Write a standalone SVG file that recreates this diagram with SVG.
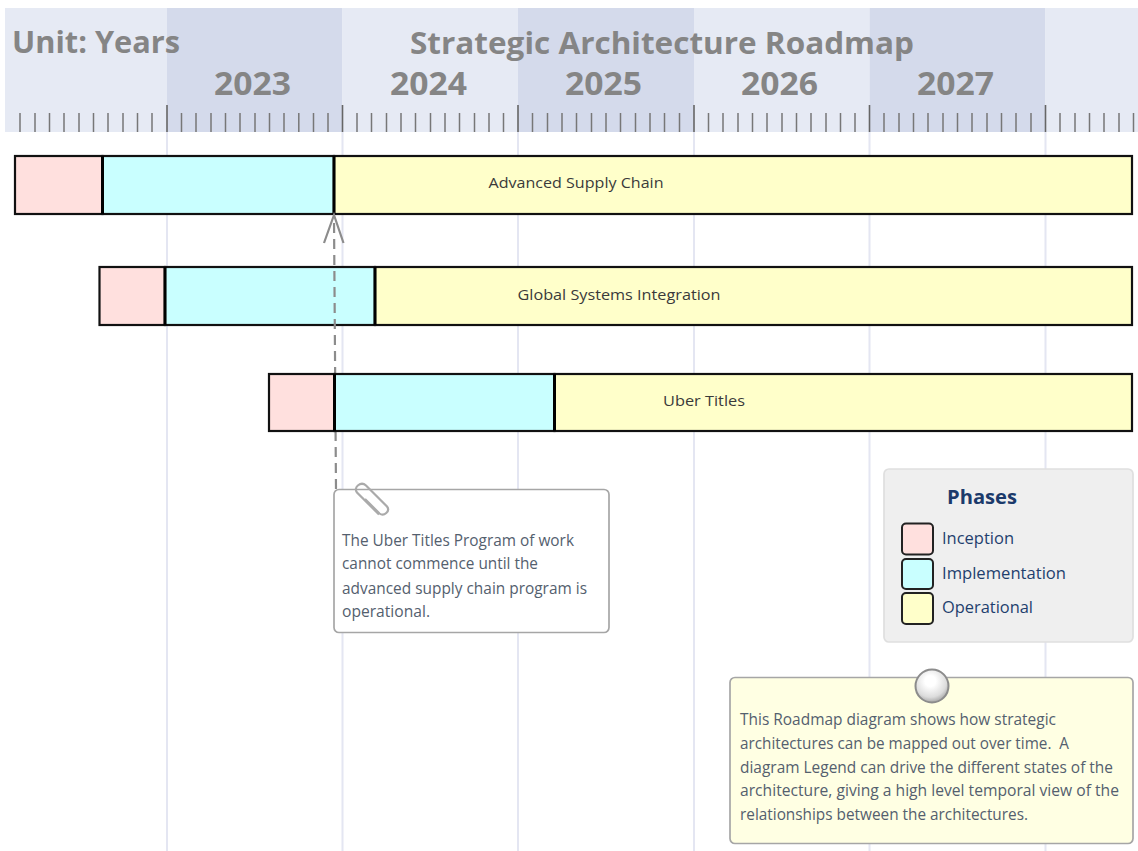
<svg xmlns="http://www.w3.org/2000/svg" width="1138" height="851" viewBox="0 0 1138 851">
<defs>
<radialGradient id="ball" cx="0.45" cy="0.35" r="0.65"><stop offset="0.25" stop-color="#ffffff"/><stop offset="0.75" stop-color="#dcdcdc"/><stop offset="1" stop-color="#a8a8a8"/></radialGradient>
</defs>
<style>
text{font-family:"Open Sans","Noto Sans","Liberation Sans",sans-serif}
.h{font-weight:700;fill:#858585}
.title{font-size:31px}
.year{font-size:32px}
.lab{font-size:15px;fill:#3a3a3a}
.note{font-size:15.5px;fill:#54606e}
.band0{fill:#e6eaf4}.band1{fill:#d4daeb}
.grid{stroke:#e4e6f2;stroke-width:2}
.minor{stroke:#777;stroke-width:1.5}
.major{stroke:#666;stroke-width:1.6}
.seg{stroke:#111;stroke-width:2.200}
.div{stroke:#000;stroke-width:3;fill:none}
.inc{fill:#ffe0de}.imp{fill:#c9ffff}.op{fill:#ffffca}
.leg{font-size:16px;fill:#1f3f6e}
.dash{fill:none;stroke:#8c8c8c;stroke-width:2.200}
</style>
<g id="grid">
<path class="grid" d="M167 132V851M342.500 132V851M518 132V851M694 132V851M869.500 132V851M1045.500 132V851"/>
</g>
<g id="timeline">
<rect class="band0" x="5" y="8" width="162" height="124"/>
<rect class="band1" x="167" y="8" width="175.500" height="124"/>
<rect class="band0" x="342.500" y="8" width="175.500" height="124"/>
<rect class="band1" x="518" y="8" width="176" height="124"/>
<rect class="band0" x="694" y="8" width="175.500" height="124"/>
<rect class="band1" x="869.500" y="8" width="176" height="124"/>
<rect class="band0" x="1045.500" y="8" width="92.500" height="124"/>
<path class="minor" d="M20 113V132M35 113V132M49.500 113V132M64 113V132M79 113V132M93.500 113V132M108 113V132M123 113V132M137.500 113V132M152 113V132M181.500 113V132M196 113V132M211 113V132M225.500 113V132M240 113V132M255 113V132M269.500 113V132M284 113V132M298.800 113V132M313.500 113V132M328 113V132M357 113V132M371.500 113V132M386.500 113V132M401 113V132M415.500 113V132M430.500 113V132M445 113V132M459.500 113V132M474.500 113V132M489 113V132M503.500 113V132M532.500 113V132M547.500 113V132M562 113V132M576.500 113V132M591.500 113V132M606 113V132M620.500 113V132M635.500 113V132M650 113V132M664.500 113V132M679.500 113V132M708.500 113V132M723 113V132M738 113V132M752.500 113V132M767 113V132M782 113V132M796.500 113V132M811 113V132M826 113V132M840.500 113V132M855 113V132M884 113V132M899 113V132M913.500 113V132M928 113V132M943 113V132M957.500 113V132M972 113V132M987 113V132M1001.500 113V132M1016 113V132M1031 113V132M1060 113V132M1075 113V132M1089.500 113V132M1104 113V132M1119 113V132M1133.500 113V132"/>
<path class="major" d="M167 105V132M342.500 105V132M518 105V132M694 105V132M869.500 105V132M1045.500 105V132"/>
<text class="h title" x="12" y="53" textLength="168" lengthAdjust="spacingAndGlyphs">Unit: Years</text>
<text class="h title" x="410" y="54" textLength="504" lengthAdjust="spacingAndGlyphs">Strategic Architecture Roadmap</text>
<text class="h year" x="214" y="95" textLength="77" lengthAdjust="spacingAndGlyphs">2023</text>
<text class="h year" x="390" y="95" textLength="77" lengthAdjust="spacingAndGlyphs">2024</text>
<text class="h year" x="565" y="95" textLength="77" lengthAdjust="spacingAndGlyphs">2025</text>
<text class="h year" x="741" y="95" textLength="77" lengthAdjust="spacingAndGlyphs">2026</text>
<text class="h year" x="917" y="95" textLength="77" lengthAdjust="spacingAndGlyphs">2027</text>
</g>
<g id="advanced-supply-chain">
<rect class="seg inc" x="15" y="156" width="87.500" height="58"/>
<rect class="seg imp" x="102.500" y="156" width="231.500" height="58"/>
<rect class="seg op" x="334" y="156" width="798" height="58"/>
<path class="div" d="M102.500 156V214M334 156V214"/>
<text class="lab" x="488.500" y="188" textLength="175" lengthAdjust="spacingAndGlyphs">Advanced Supply Chain</text>
</g>
<g id="global-systems-integration">
<rect class="seg inc" x="99.500" y="267" width="65.500" height="58"/>
<rect class="seg imp" x="165" y="267" width="210" height="58"/>
<rect class="seg op" x="375" y="267" width="757" height="58"/>
<path class="div" d="M165 267V325M375 267V325"/>
<text class="lab" x="517.500" y="300" textLength="203" lengthAdjust="spacingAndGlyphs">Global Systems Integration</text>
</g>
<g id="connectors">
<path class="dash" d="M336 489L334 218" stroke-dasharray="10 6"/>
<path class="dash" d="M324 243L334 215L343.500 243"/>
</g>
<g id="uber-titles">
<rect class="seg inc" x="269" y="374" width="65.500" height="57"/>
<rect class="seg imp" x="334.500" y="374" width="220" height="57"/>
<rect class="seg op" x="554.500" y="374" width="577.500" height="57"/>
<path class="div" d="M334.500 374V431M554.500 374V431"/>
<text class="lab" x="663" y="406" textLength="82" lengthAdjust="spacingAndGlyphs">Uber Titles</text>
</g>
<g id="note-uber">
<rect x="334" y="489.500" width="275" height="143" rx="5" fill="#fff" stroke="#a6a6a6" stroke-width="1.700"/>
<path d="M379 514.500L357 492.500C353 487 361 481 366 485.500L387 506.500C390.500 511 384 517 379.500 513.500L365 499" fill="none" stroke="#aaa" stroke-width="2.200"/>
<text class="note" x="342" y="546" textLength="232" lengthAdjust="spacingAndGlyphs">The Uber Titles Program of work</text>
<text class="note" x="342" y="569" textLength="196" lengthAdjust="spacingAndGlyphs">cannot commence until the</text>
<text class="note" x="342" y="594" textLength="245" lengthAdjust="spacingAndGlyphs">advanced supply chain program is</text>
<text class="note" x="342" y="617" textLength="88" lengthAdjust="spacingAndGlyphs">operational.</text>
</g>
<g id="legend">
<rect x="884" y="469" width="249" height="173" rx="5" fill="#efefef" stroke="#dfdfdf" stroke-width="1.700"/>
<text x="947" y="504" font-size="20" font-weight="700" fill="#1b3a6b" textLength="70" lengthAdjust="spacingAndGlyphs">Phases</text>
<rect class="inc" x="902" y="523.500" width="31" height="31" rx="4" stroke="#222" stroke-width="2"/>
<rect class="imp" x="902" y="559" width="31" height="30" rx="4" stroke="#222" stroke-width="2"/>
<rect class="op" x="902" y="593" width="31" height="31" rx="4" stroke="#222" stroke-width="2"/>
<text class="leg" x="942" y="544" textLength="72" lengthAdjust="spacingAndGlyphs">Inception</text>
<text class="leg" x="942" y="579" textLength="124" lengthAdjust="spacingAndGlyphs">Implementation</text>
<text class="leg" x="942" y="613" textLength="91" lengthAdjust="spacingAndGlyphs">Operational</text>
</g>
<g id="note-description">
<rect x="730" y="677.500" width="403" height="166" rx="5" fill="#ffffe3" stroke="#a6a6a6" stroke-width="1.700"/>
<circle cx="932" cy="686" r="16.500" fill="url(#ball)" stroke="#8c8c8c" stroke-width="2"/>
<text class="note" x="740" y="725" textLength="316" lengthAdjust="spacingAndGlyphs">This Roadmap diagram shows how strategic</text>
<text class="note" x="740" y="749" textLength="329" lengthAdjust="spacingAndGlyphs" xml:space="preserve">architectures can be mapped out over time.  A</text>
<text class="note" x="740" y="773" textLength="373" lengthAdjust="spacingAndGlyphs">diagram Legend can drive the different states of the</text>
<text class="note" x="740" y="796" textLength="379" lengthAdjust="spacingAndGlyphs">architecture, giving a high level temporal view of the</text>
<text class="note" x="740" y="820" textLength="288" lengthAdjust="spacingAndGlyphs">relationships between the architectures.</text>
</g>
</svg>
